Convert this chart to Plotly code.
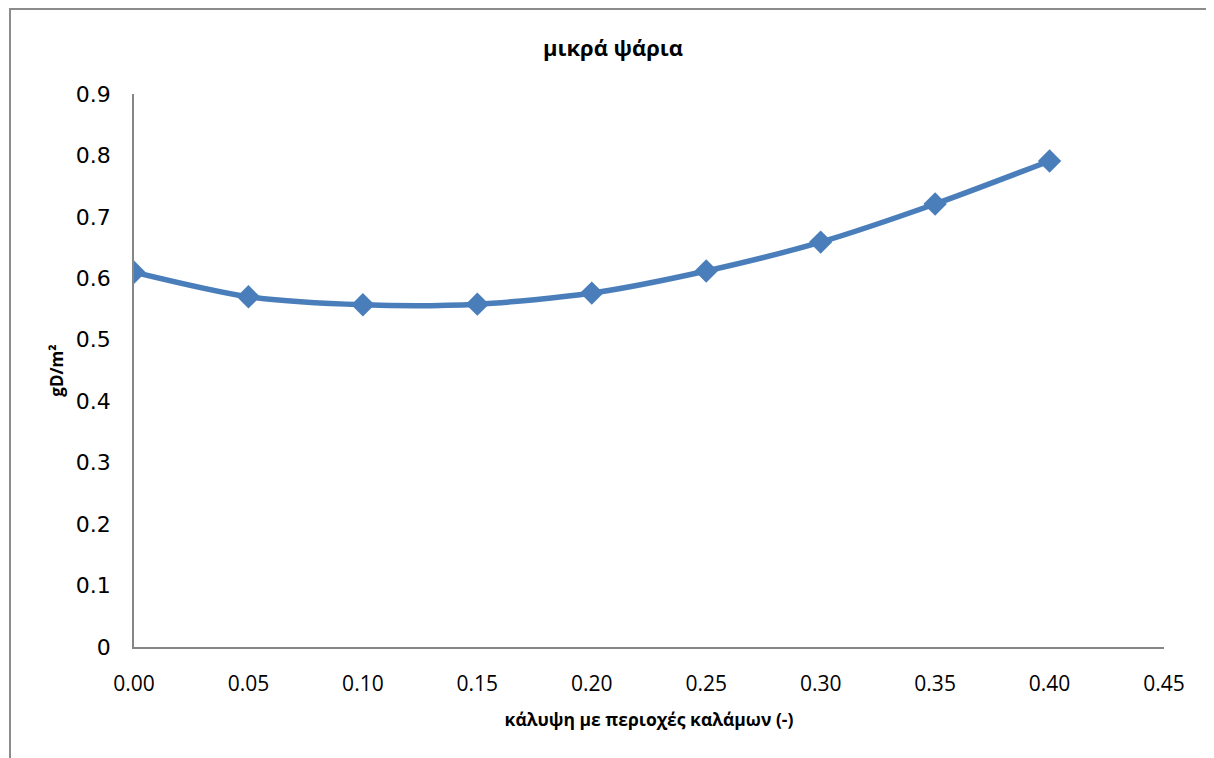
import plotly.graph_objects as go

x_vals = [0.00, 0.05, 0.10, 0.15, 0.20, 0.25, 0.30, 0.35, 0.40]
y_vals = [0.610, 0.570, 0.557, 0.558, 0.576, 0.612, 0.659, 0.721, 0.791]
x_ticks = [0.00, 0.05, 0.10, 0.15, 0.20, 0.25, 0.30, 0.35, 0.40, 0.45]
x_tick_labels = ["0.00", "0.05", "0.10", "0.15", "0.20", "0.25", "0.30", "0.35", "0.40", "0.45"]
y_ticks = [0, 0.1, 0.2, 0.3, 0.4, 0.5, 0.6, 0.7, 0.8, 0.9]
y_tick_labels = ["0", "0.1", "0.2", "0.3", "0.4", "0.5", "0.6", "0.7", "0.8", "0.9"]

# page body has an 8px offset; coordinates below are figure coordinates
W, H = 1214, 758
L, R, T, B = 126, 58, 86, 119
PW, PH = W - L - R, H - T - B

fig = go.Figure()
fig.add_trace(go.Scatter(
    x=x_vals, y=y_vals, mode="lines+markers",
    line=dict(color="#4A7EBB", width=5.5, shape="spline", smoothing=0.8),
    marker=dict(symbol="diamond", size=18, color="#4A7EBB"),
    showlegend=False,
))

narrow = "Liberation Sans Narrow, Open Sans, sans-serif"
fig.update_layout(
    width=W, height=H,
    margin=dict(l=L, r=R, t=T, b=B),
    paper_bgcolor="white", plot_bgcolor="white",
    title=dict(text="<b>μικρά ψάρια</b>", x=605 / W, xanchor="center",
               y=1 - 40 / H, yanchor="middle",
               font=dict(family=narrow, size=22, color="black")),
    xaxis=dict(range=[0, 0.45], tickvals=x_ticks, ticktext=x_tick_labels,
               showgrid=False, zeroline=False, showline=True, linecolor="#868686", linewidth=1.5,
               ticks="", ticklabelstandoff=17,
               tickfont=dict(family=narrow, size=21, color="black"),
               title=dict(text="<b>κάλυψη με περιοχές καλάμων (-)</b>", standoff=18,
                          font=dict(family=narrow, size=17.5, color="black"))),
    yaxis=dict(range=[0, 0.9], tickvals=y_ticks, ticktext=y_tick_labels,
               showgrid=False, zeroline=False, showline=True, linecolor="#868686", linewidth=1.5,
               ticks="", ticklabelstandoff=17,
               tickfont=dict(family="DejaVu Sans, Verdana, sans-serif", size=22, color="black"),
               title=dict(text="<b>gD/m²</b>", standoff=8,
                          font=dict(family=narrow, size=17, color="black"))),
)

# outer chart frame (left and top visible, right/bottom beyond page)
fig.add_shape(type="rect", xref="paper", yref="paper",
              x0=(2 - L) / PW, x1=(W + 30 - L) / PW,
              y0=-(B + 30) / PH, y1=(H - 1 - B) / PH,
              line=dict(color="#8C8C8C", width=2), fillcolor="rgba(0,0,0,0)", layer="below")

fig.write_html("out.html")
